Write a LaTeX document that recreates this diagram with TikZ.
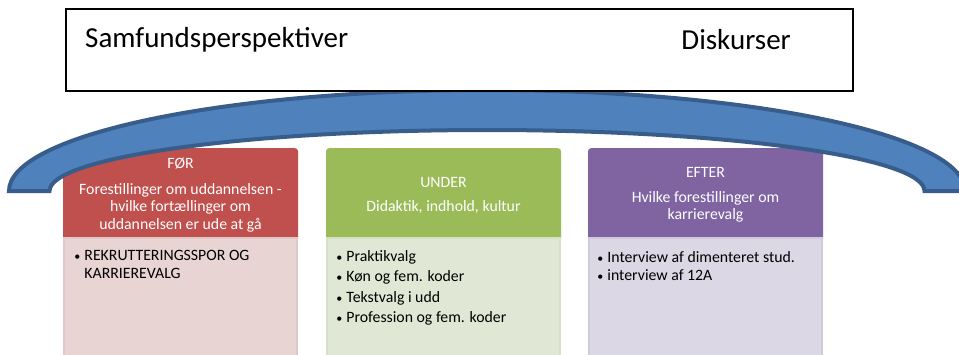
\documentclass[tikz,border=0pt]{standalone}
\usepackage{fontspec}
\setmainfont{Carlito}
\usetikzlibrary{positioning}

\definecolor{arcblue}{HTML}{4F81BD}
\definecolor{arcline}{HTML}{385D8A}
\definecolor{forhead}{HTML}{C0504D}
\definecolor{forbody}{HTML}{E9D4D4}
\definecolor{forline}{HTML}{E0C8C8}
\definecolor{underhead}{HTML}{9BBB59}
\definecolor{underbody}{HTML}{E0E8D5}
\definecolor{underline}{HTML}{D5E0C7}
\definecolor{efterhead}{HTML}{8064A2}
\definecolor{efterbody}{HTML}{DBD7E4}
\definecolor{efterline}{HTML}{D0CADC}

\newcommand{\bl}{\makebox[10pt][l]{\fontsize{12}{12}\selectfont •}}

\begin{document}
\begin{tikzpicture}[x=1pt,y=-1pt,
  headbox/.style={rectangle, rounded corners=3pt, minimum width=235pt,
    minimum height=94pt, anchor=north, text=white, align=center,
    font=\fontsize{15.8}{17.5}\selectfont},
  bodybox/.style={rectangle, minimum width=233pt, minimum height=130pt,
    line width=1.5pt},
  bullets/.style={align=left, inner sep=0pt,
    font=\fontsize{15.8}{17.5}\selectfont},
  topbox/.style={draw=black, line width=1.5pt, fill=white,
    minimum width=787pt, minimum height=82pt, anchor=north west},
  bigtext/.style={font=\fontsize{29}{33}\selectfont, inner sep=0pt}]
  \clip (0,0) rectangle (959,354);

  % the three phases
  \node[headbox, fill=forhead] (forhead) at (180.5,148)
    {FØR\\[8pt]Forestillinger om uddannelsen -\\hvilke fortællinger om\\uddannelsen er ude at gå};
  \node[bodybox, fill=forbody, draw=forline, below=-5pt of forhead] (forbody) {};
  \node[bullets, below right=13pt and 11pt of forbody.north west] (forlist)
    {\bl REKRUTTERINGSSPOR OG\\\makebox[10pt]{}KARRIEREVALG};

  \node[headbox, fill=underhead] (underhead) at (443.5,148)
    {UNDER\\[6pt]Didaktik, indhold, kultur};
  \node[bodybox, fill=underbody, draw=underline, below=-5pt of underhead] (underbody) {};
  \node[bullets, below right=13pt and 10pt of underbody.north west] (underlist)
    {\bl Praktikvalg\\[2.8pt]\bl Køn og fem. koder\\[2.8pt]\bl Tekstvalg i udd\\[2.8pt]\bl Profession og fem. koder};

  \node[headbox, fill=efterhead] (efterhead) at (705.5,148)
    {EFTER\\[7pt]Hvilke forestillinger om\\karrierevalg};
  \node[bodybox, fill=efterbody, draw=efterline, below=-5pt of efterhead] (efterbody) {};
  \node[bullets, below right=14pt and 9pt of efterbody.north west] (efterlist)
    {\bl Interview af dimenteret stud.\\[0.5pt]\bl interview af 12A};

  % the arc over them
  \path[draw=arcline, fill=arcblue, line width=4pt]
    (9,191) arc[start angle=180, end angle=0, x radius=478pt, y radius=101pt]
    -- (924.5,191)
    arc[start angle=0, end angle=180, x radius=437.5pt, y radius=61pt]
    -- cycle;

  % frame at the top
  \node[topbox] (frame) at (65,8) {};
  \node[bigtext, anchor=west] (samf) at (85,40) {Samfundsperspektiver};
  \node[bigtext, anchor=east] (disk) at (791,40) {Diskurser};
\end{tikzpicture}
\end{document}
